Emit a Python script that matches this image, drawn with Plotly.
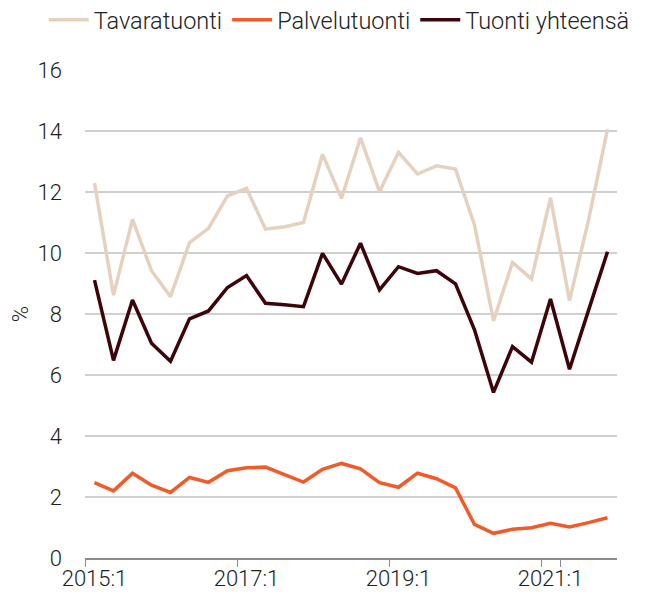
import plotly.graph_objects as go

quarters = [f"{y}:{q}" for y in range(2015, 2022) for q in range(1, 5)]

tavaratuonti = [12.29, 8.62, 11.10, 9.42, 8.57, 10.34, 10.81, 11.87, 12.12, 10.78,
                10.86, 11.00, 13.24, 11.79, 13.78, 12.01, 13.30, 12.59, 12.86, 12.75,
                10.92, 7.78, 9.69, 9.15, 11.81, 8.44, 11.08, 14.05]
palvelutuonti = [2.47, 2.20, 2.78, 2.39, 2.15, 2.64, 2.48, 2.86, 2.96, 2.98,
                 2.73, 2.49, 2.91, 3.10, 2.92, 2.47, 2.32, 2.78, 2.60, 2.30,
                 1.10, 0.81, 0.94, 0.99, 1.14, 1.02, 1.16, 1.32]
tuonti_yhteensa = [9.11, 6.48, 8.46, 7.04, 6.45, 7.84, 8.10, 8.87, 9.26, 8.35,
                   8.30, 8.24, 9.99, 8.98, 10.32, 8.79, 9.55, 9.33, 9.42, 8.99,
                   7.48, 5.43, 6.93, 6.42, 8.49, 6.19, 8.12, 10.04]

tick_labels = ["2015:1", "2017:1", "2019:1", "2021:1"]

series = [
    ("Tavaratuonti", tavaratuonti, "#E6D1BF"),
    ("Palvelutuonti", palvelutuonti, "#F15A29"),
    ("Tuonti yhteensä", tuonti_yhteensa, "#3E0509"),
]

fig = go.Figure()
for name, vals, color in series:
    fig.add_trace(go.Scatter(x=quarters, y=vals, name=name, mode="lines",
                             line=dict(color=color, width=3.5)))

fnt = dict(family="Roboto", size=22, color="#222222", weight=300)
legfnt = dict(family="Roboto", size=23.5, color="#222222", weight=300)

fig.update_layout(
    width=651, height=601,
    margin=dict(l=77, r=42, t=62, b=51, autoexpand=False),
    paper_bgcolor="white", plot_bgcolor="white",
    font=fnt,
    showlegend=True,
    legend=dict(orientation="h", x=-0.0775, xanchor="left",
                y=(550 - 12) / 488, yanchor="middle", font=legfnt,
                itemwidth=40, bgcolor="rgba(0,0,0,0)"),
    xaxis=dict(type="category", tickmode="array", tickvals=tick_labels, ticktext=tick_labels,
               tickson="boundaries", ticks="outside", ticklen=7, tickcolor="#8C8C8C",
               tickangle=0, automargin=False,
               showline=True, linecolor="#8C8C8C", linewidth=1.5, showgrid=False,
               range=[-0.5, 27.5], tickfont=fnt),
    yaxis=dict(range=[0, 16], dtick=2, showgrid=True, gridcolor="#D0D0D0", gridwidth=1.5,
               zeroline=False, showline=False, ticks="", ticklabelstandoff=22,
               automargin=False,
               title=dict(text="%", standoff=14, font=fnt),
               tickfont=fnt),
)

fig.write_html("out.html")
